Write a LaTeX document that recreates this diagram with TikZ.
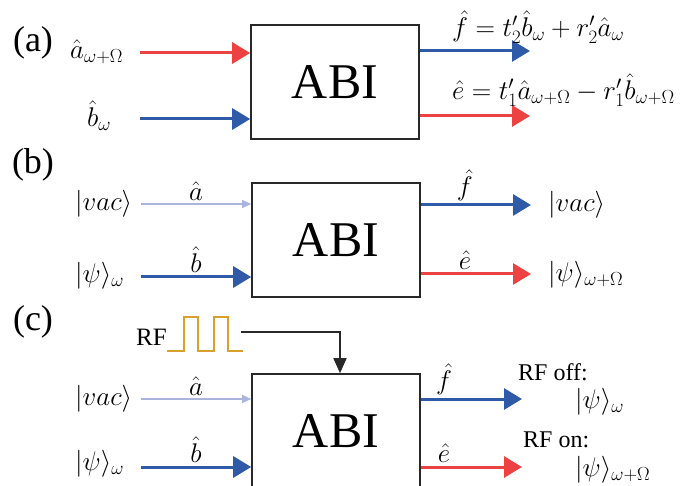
\RequirePackage{fix-cm}
\documentclass[tikz,border=0pt]{standalone}
\usepackage[no-math]{fontspec}
\setmainfont{Liberation Serif}
\usepackage{amsmath}
\usetikzlibrary{arrows.meta, positioning, calc}
\definecolor{sigred}{RGB}{236,66,66}
\definecolor{sigblue}{RGB}{46,90,168}
\definecolor{vacblue}{RGB}{170,180,220}
\definecolor{rforange}{RGB}{218,160,46}
\definecolor{boxgray}{RGB}{40,40,40}

\begin{document}
\begin{tikzpicture}[
    x=1pt, y=-1pt,
    sig/.style={line width=3pt, -{Triangle[length=18pt,width=21pt]}},
    vac/.style={line width=1.2pt, color=vacblue, -{Triangle[length=9pt,width=8pt]}},
    abibox/.style={draw=boxgray, line width=1.6pt, minimum width=168pt, minimum height=114pt, inner sep=0pt, font=\fontsize{50}{50}\selectfont},
    panel/.style={font=\fontsize{36}{36}\selectfont, inner sep=0pt},
    lab/.style={font=\fontsize{27}{32}\selectfont, inner sep=0pt},
    rftxt/.style={font=\fontsize{24}{24}\selectfont, inner sep=0pt},
]
    \clip (0,0) rectangle (691,486);

    % (a) ABI with both inputs
    \node[abibox] (abiA) at (335,82) {ABI};
    \node[panel] (pa) at (33,43) {(a)};
    \node[lab, anchor=west] (aInA) at (70,52) {$\hat a_{\omega+\Omega}$};
    \node[lab, anchor=west] (bInA) at (87,116) {$\hat b_\omega$};
    \coordinate (aStartA) at (140,53);
    \coordinate (bStartA) at (140,119);
    \coordinate (fEndA) at (530,51);
    \coordinate (eEndA) at (530,116);
    \draw[sig, sigred] (aStartA) -- (aStartA -| abiA.west);
    \draw[sig, sigblue] (bStartA) -- (bStartA -| abiA.west);
    \draw[sig, sigblue] (fEndA -| abiA.east) -- (fEndA);
    \draw[sig, sigred] (eEndA -| abiA.east) -- (eEndA);
    \node[lab, anchor=west] (fOutA) at (452,27) {$\hat f = t'_2\hat b_\omega + r'_2\hat a_\omega$};
    \node[lab, anchor=west] (eOutA) at (452,90) {$\hat e = t'_1\hat a_{\omega+\Omega} - r'_1\hat b_{\omega+\Omega}$};

    % (b) vacuum in the a port
    \node[abibox] (abiB) at (336,240) {ABI};
    \node[panel] (pb) at (33,165) {(b)};
    \node[lab, anchor=west] (vacInB) at (75,204) {$|vac\rangle$};
    \node[lab, anchor=west] (psiInB) at (75,276) {$|\psi\rangle_\omega$};
    \coordinate (aStartB) at (141,204);
    \coordinate (bStartB) at (141,277);
    \coordinate (fEndB) at (531,205);
    \coordinate (eEndB) at (531,274);
    \draw[vac] (aStartB) -- (aStartB -| abiB.west) node[midway, above=3pt, lab, text=black] {$\hat a$};
    \draw[sig, sigblue] (bStartB) -- (bStartB -| abiB.west) node[midway, above=3pt, lab, text=black] {$\hat b$};
    \draw[sig, sigblue] (fEndB -| abiB.east) -- (fEndB) node[pos=0.4, above=3pt, lab, text=black] {$\hat f$};
    \draw[sig, sigred] (eEndB -| abiB.east) -- (eEndB) node[pos=0.4, above=3pt, lab, text=black] {$\hat e$};
    \node[lab, anchor=west] (vacOutB) at (548,205) {$|vac\rangle$};
    \node[lab, anchor=west] (psiOutB) at (548,275) {$|\psi\rangle_{\omega+\Omega}$};

    % (c) RF switched
    \node[abibox] (abiC) at (336,431) {ABI};
    \node[panel] (pc) at (33,322) {(c)};
    \node[rftxt, anchor=east, font=\fontsize{25}{25}\selectfont] (rf) at (167,337) {RF};
    \draw[rforange, line width=1.5pt] (167,351) -| (184,317) -| (198,351) -| (214,317) -| (228,351) -- (243,351);
    \coordinate (rfOut) at (241,332);
    \draw[boxgray, line width=1.5pt, -{Triangle[length=15pt,width=13pt]}] (rfOut) -| ([xshift=4pt]abiC.north);
    \node[lab, anchor=west] (vacInC) at (75,399) {$|vac\rangle$};
    \node[lab, anchor=west] (psiInC) at (75,464) {$|\psi\rangle_\omega$};
    \coordinate (aStartC) at (141,399);
    \coordinate (bStartC) at (141,467);
    \coordinate (fEndC) at (522,399);
    \coordinate (eEndC) at (522,467);
    \draw[vac] (aStartC) -- (aStartC -| abiC.west) node[midway, above=3pt, lab, text=black] {$\hat a$};
    \draw[sig, sigblue] (bStartC) -- (bStartC -| abiC.west) node[midway, above=3pt, lab, text=black] {$\hat b$};
    \draw[sig, sigblue] (fEndC -| abiC.east) -- (fEndC) node[pos=0.23, above=3pt, lab, text=black] {$\hat f$};
    \draw[sig, sigred] (eEndC -| abiC.east) -- (eEndC) node[pos=0.23, above=3pt, lab, text=black] {$\hat e$};
    \node[rftxt, anchor=west] (rfOff) at (518,372) {RF off:};
    \node[lab, anchor=west] (psiOffC) at (575,402) {$|\psi\rangle_\omega$};
    \node[rftxt, anchor=west] (rfOn) at (523,440) {RF on:};
    \node[lab, anchor=west] (psiOnC) at (575,470) {$|\psi\rangle_{\omega+\Omega}$};
\end{tikzpicture}
\end{document}
